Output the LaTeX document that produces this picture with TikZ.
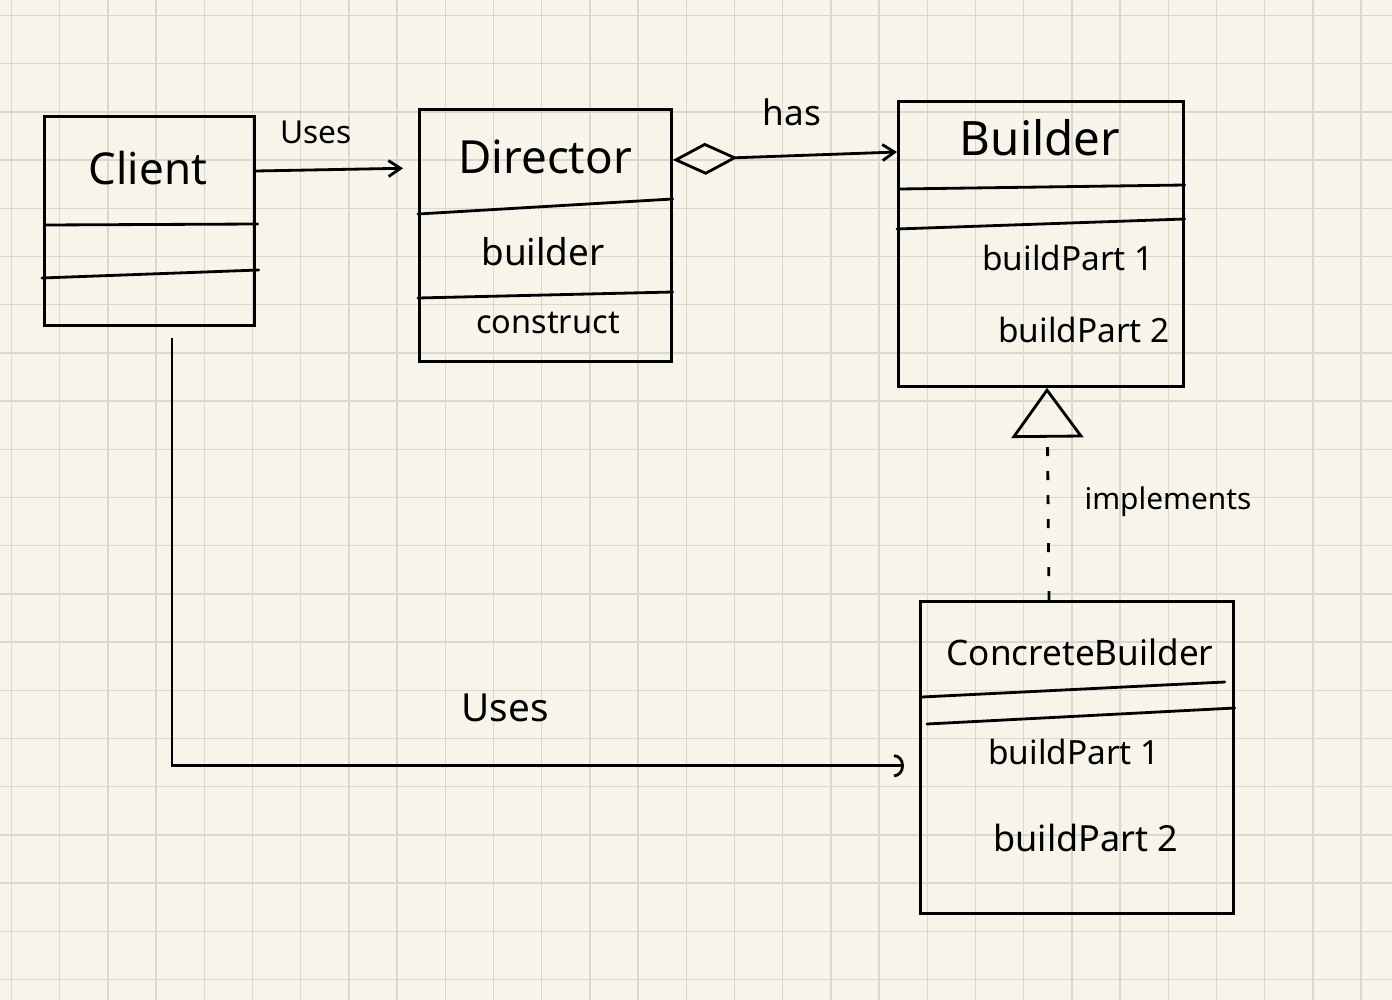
\documentclass[tikz,border=0pt]{standalone}
\usepackage{fontspec}
\setmainfont{Noto Sans}
\usepackage{xcolor}
\usetikzlibrary{arrows.meta,positioning,calc}
\definecolor{paper}{RGB}{247,245,234}
\definecolor{gridline}{RGB}{218,216,204}
\newcommand{\handsize}[1]{\fontsize{#1}{#1}\selectfont}

\begin{document}
\begin{tikzpicture}[x=0.02cm, y=-0.02cm,
    classbox/.style={draw, line width=1.6pt, inner sep=0pt, anchor=north west},
    sepline/.style={line width=1.6pt, line cap=round},
    conn/.style={line width=1.6pt},
    txt/.style={inner sep=0pt, text=black}]

    % paper with grid
    \fill[paper] (0,0) rectangle (1392,1000);
    \useasboundingbox (0,0) rectangle (1392,1000);
    \foreach \i in {0,...,28}
        \draw[gridline, line width=0.8pt] (11.4+48.2*\i,0) -- (11.4+48.2*\i,1000);
    \foreach \j in {0,...,20}
        \draw[gridline, line width=0.8pt] (0,15.5+48.2*\j) -- (1392,15.5+48.2*\j);

    % class boxes
    \node[classbox, minimum width=4.2cm, minimum height=4.18cm] (client) at (43,115) {};
    \node[classbox, minimum width=5.04cm, minimum height=5.04cm] (director) at (418,108) {};
    \node[classbox, minimum width=5.7cm, minimum height=5.7cm] (builder) at (897,100) {};
    \node[classbox, minimum width=6.26cm, minimum height=6.24cm] (concrete) at (919,600) {};

    % compartments
    \draw[sepline] ($(client.north west)+(3,110)$) -- ($(client.north east)+(2,109)$);
    \draw[sepline] ($(client.north west)+(-1,163)$) -- ($(client.north east)+(3,155)$);
    \draw[sepline] ($(director.north west)+(0,106)$) -- ($(director.north east)+(0,91)$);
    \draw[sepline] ($(director.north west)+(0,190)$) -- ($(director.north east)+(0,184)$);
    \draw[sepline] ($(builder.north west)+(3,89)$) -- ($(builder.north east)+(0,85)$);
    \draw[sepline] ($(builder.north west)+(0,129)$) -- ($(builder.north east)+(0,119)$);
    \draw[sepline] ($(concrete.north west)+(3,97)$) -- ($(concrete.north east)+(-10,82)$);
    \draw[sepline] ($(concrete.north west)+(8,124)$) -- ($(concrete.north east)+(0,108)$);

    % names and members
    \node[txt, font=\handsize{25}] (clientname) at (148,168) {Client};
    \node[txt, font=\handsize{26}] (directorname) at (545,157) {Director};
    \node[txt, font=\handsize{21}] (directorfield) at (543,252) {builder};
    \node[txt, font=\handsize{18.5}] (directorop) at (548,323) {construct};
    \node[txt, font=\handsize{27}] (buildername) at (1040,138) {Builder};
    \node[txt, font=\handsize{19}] (builderopA) at (1068,258) {buildPart 1};
    \node[txt, font=\handsize{19}] (builderopB) at (1084,330) {buildPart 2};
    \node[txt, font=\handsize{20}] (concretename) at (1080,652) {ConcreteBuilder};
    \node[txt, font=\handsize{19}] (concreteopA) at (1074,752) {buildPart 1};
    \node[txt, font=\handsize{20.5}] (concreteopB) at (1086,838) {buildPart 2};

    % connectors
    \draw[conn, -{Straight Barb[length=2.4mm, width=3.2mm]}, shorten >=0.3cm]
        ($(client.north east)+(0,56)$) -- ($(director.north west)+(0,60)$);
    \node[txt, font=\handsize{18}] (usesA) at (316,132) {Uses};

    \draw[conn, {Diamond[open, length=1.3cm, width=0.64cm]}-{Straight Barb[length=2.4mm, width=3.2mm]}]
        ($(director.north east)+(0,52)$) -- ($(builder.north west)+(0,52)$);
    \node[txt, font=\handsize{20}] (has) at (792,112) {has};

    \draw[conn, dash pattern=on 0.18cm off 0.3cm, -{Triangle[open, length=1cm, width=1.44cm]}]
        ($(concrete.north west)+(130,0)$) -- ($(builder.south west)+(150,0)$);
    \node[txt, font=\handsize{17}] (impl) at (1168,502) {implements};

    \draw[conn, -{Arc Barb[length=2mm, width=4.6mm]}, shorten >=0.3cm]
        ($(client.south west)+(129,11)$) |- ($(concrete.south west)+(0,-149)$);
    \node[txt, font=\handsize{22}] (usesB) at (505,708) {Uses};
\end{tikzpicture}
\end{document}
